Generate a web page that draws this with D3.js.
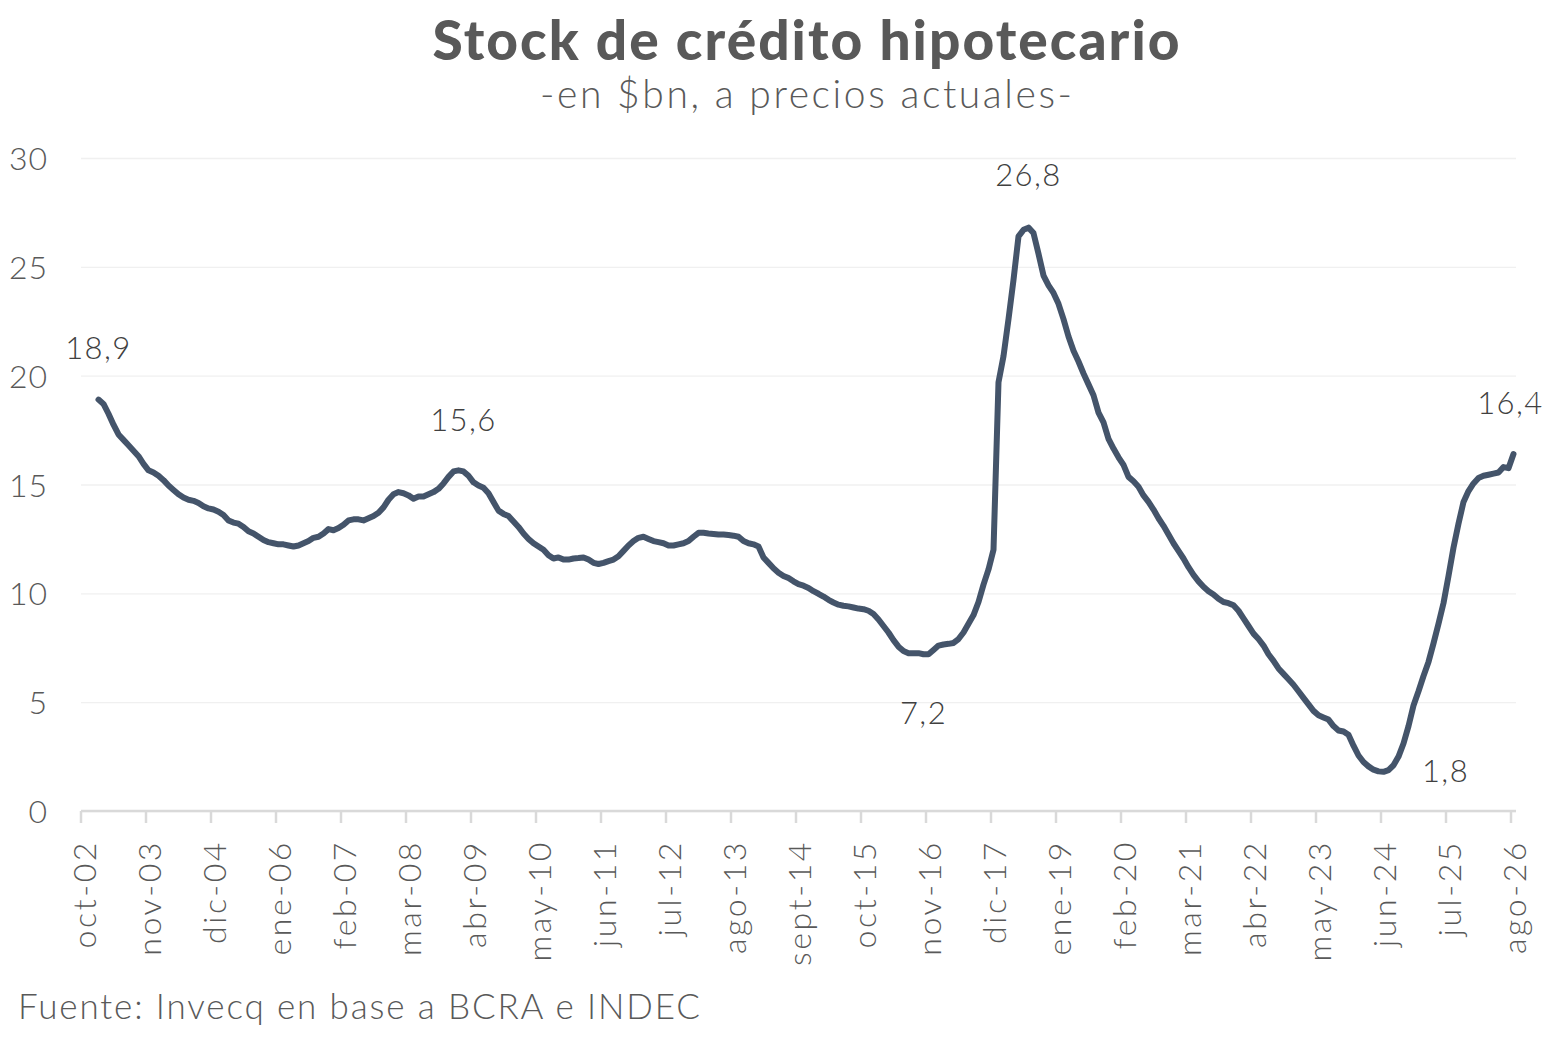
<!DOCTYPE html>
<html>
<head>
<meta charset="utf-8">
<script src="https://cdn.jsdelivr.net/npm/d3@7"></script>
<style>
  body { margin: 0; background: #fff; }
  svg text { font-family: Lato, "Open Sans", sans-serif; }
</style>
</head>
<body>
<div class="chart"></div>
<script>
// Monthly categories from oct-02 to ago-26
const monthNames = ['ene', 'feb', 'mar', 'abr', 'may', 'jun', 'jul', 'ago', 'sept', 'oct', 'nov', 'dic'];
const firstCategory = { year: 2002, month: 9 }; // oct-02
const nCategories = 287;
const firstValueIndex = 3; // series starts in ene-03

// Stock de crédito hipotecario, $bn a precios actuales
const stock = [
  18.9, 18.7, 18.25, 17.75, 17.3, 17.05, 16.8, 16.55, 16.3, 15.95,
  15.65, 15.55, 15.4, 15.2, 14.95, 14.75, 14.55, 14.4, 14.3, 14.25,
  14.15, 14.0, 13.9, 13.85, 13.75, 13.6, 13.35, 13.25, 13.2, 13.05,
  12.85, 12.75, 12.6, 12.45, 12.35, 12.3, 12.25, 12.25, 12.2, 12.15,
  12.2, 12.3, 12.4, 12.55, 12.6, 12.75, 12.95, 12.9, 13.0, 13.15,
  13.35, 13.4, 13.4, 13.35, 13.45, 13.55, 13.7, 13.95, 14.3, 14.55,
  14.65, 14.6, 14.5, 14.35, 14.45, 14.45, 14.55, 14.65, 14.8, 15.05,
  15.35, 15.6, 15.65, 15.6, 15.4, 15.1, 14.95, 14.85, 14.6, 14.2,
  13.8, 13.65, 13.55, 13.3, 13.05, 12.75, 12.5, 12.3, 12.15, 12.0,
  11.75, 11.6, 11.65, 11.55, 11.55, 11.6, 11.62, 11.65, 11.55, 11.4,
  11.35, 11.4, 11.48, 11.55, 11.7, 11.95, 12.2, 12.4, 12.55, 12.6,
  12.5, 12.4, 12.35, 12.3, 12.2, 12.2, 12.25, 12.3, 12.4, 12.6,
  12.78, 12.78, 12.75, 12.73, 12.7, 12.7, 12.68, 12.65, 12.6, 12.4,
  12.3, 12.25, 12.15, 11.65, 11.4, 11.15, 10.95, 10.8, 10.7, 10.55,
  10.42, 10.35, 10.25, 10.1, 9.98, 9.85, 9.7, 9.58, 9.48, 9.43,
  9.4, 9.35, 9.3, 9.27, 9.2, 9.05, 8.8, 8.5, 8.2, 7.85,
  7.55, 7.35, 7.25, 7.25, 7.25, 7.2, 7.2, 7.4, 7.6, 7.65,
  7.68, 7.72, 7.9, 8.2, 8.6, 9.0, 9.6, 10.4, 11.1, 12.0,
  19.7, 20.9, 22.6, 24.4, 26.4, 26.7, 26.8, 26.55, 25.6, 24.6,
  24.15, 23.8, 23.3, 22.6, 21.8, 21.15, 20.65, 20.1, 19.6, 19.1,
  18.3, 17.85, 17.1, 16.65, 16.25, 15.9, 15.35, 15.15, 14.9, 14.5,
  14.2, 13.85, 13.45, 13.1, 12.7, 12.3, 11.95, 11.6, 11.2, 10.85,
  10.55, 10.3, 10.1, 9.95, 9.75, 9.6, 9.55, 9.45, 9.2, 8.85,
  8.5, 8.15, 7.9, 7.6, 7.2, 6.9, 6.55, 6.3, 6.05, 5.8,
  5.5, 5.2, 4.9, 4.6, 4.4, 4.3, 4.2, 3.9, 3.7, 3.65,
  3.5, 3.0, 2.55, 2.25, 2.05, 1.9, 1.82, 1.8, 1.88, 2.1,
  2.5, 3.1, 3.9, 4.85, 5.5, 6.2, 6.85, 7.7, 8.6, 9.55,
  10.8, 12.1, 13.2, 14.2, 14.7, 15.05, 15.3, 15.4, 15.45, 15.5,
  15.55, 15.8, 15.75, 16.4
];

// Annotated points: category and shown value
const labelMonths = ['ene-03', 'ene-09', 'jul-18', 'oct-16', 'jun-24', 'ago-26'];
const labelValues = [18.9, 15.6, 26.8, 7.2, 1.8, 16.4];

const yTicks = [0, 5, 10, 15, 20, 25, 30];
const tickEvery = 13;

// build category names
function categoryName(k) {
  const m = firstCategory.month + k;
  const year = firstCategory.year + Math.floor(m / 12);
  return `${monthNames[m % 12]}-${String(year % 100).padStart(2, '0')}`;
}
const categories = d3.range(nCategories).map(categoryName);
const series = stock.map((v, i) => ({ cat: categories[i + firstValueIndex], value: v }));
const labels = labelMonths.map((c, i) => ({ cat: c, value: labelValues[i] }));

const es = d3.formatLocale({ decimal: ',', thousands: '.', grouping: [3], currency: ['$', ''] });
const fmt = es.format('.1f');

const width = 1558, height = 1040;
const margin = { top: 158, right: 42, bottom: 229, left: 81 };

const svg = d3.select('.chart')
  .append('svg')
  .attr('width', width)
  .attr('height', height);

const xScale = d3.scaleBand()
  .domain(categories)
  .range([margin.left, width - margin.right]);

const yScale = d3.scaleLinear()
  .domain([0, 30])
  .range([height - margin.bottom, margin.top]);

const cx = c => xScale(c) + xScale.bandwidth() / 2;

// Title
svg.append('text')
  .attr('x', 806).attr('y', 60)
  .attr('text-anchor', 'middle')
  .attr('textLength', 747).attr('lengthAdjust', 'spacing')
  .style('font-size', '55px').style('font-weight', 900)
  .style('fill', '#595959')
  .text('Stock de crédito hipotecario');

svg.append('text')
  .attr('x', 806).attr('y', 108)
  .attr('text-anchor', 'middle')
  .attr('textLength', 532).attr('lengthAdjust', 'spacing')
  .style('font-size', '39px').style('font-weight', 300)
  .style('fill', '#595959')
  .text('-en $bn, a precios actuales-');

// Gridlines
const yAxis = d3.axisLeft(yScale)
  .tickValues(yTicks)
  .tickSize(-(width - margin.left - margin.right))
  .tickPadding(33)
  .tickFormat(d3.format('d'));

const yAxisDraw = svg.append('g')
  .attr('transform', `translate(${margin.left},0)`)
  .call(yAxis);
yAxisDraw.select('.domain').remove();
yAxisDraw.selectAll('line').style('stroke', '#f0f0f0').style('stroke-width', 1.3);
yAxisDraw.selectAll('text')
  .attr('dy', '0.36em')
  .style('font-size', '32px').style('font-weight', 300)
  .style('letter-spacing', '1px')
  .style('fill', '#595959');

// X axis (category axis, ticks between categories)
const xAxisG = svg.append('g')
  .attr('transform', `translate(0,${yScale(0)})`);

xAxisG.append('line')
  .attr('x1', margin.left).attr('x2', width - margin.right)
  .style('stroke', '#d9d9d9').style('stroke-width', 2.5);

const tickCats = categories.filter((d, i) => i % tickEvery === 0);

xAxisG.selectAll('.tick-mark')
  .data(tickCats)
  .join('line')
  .attr('class', 'tick-mark')
  .attr('x1', d => xScale(d)).attr('x2', d => xScale(d))
  .attr('y1', 0).attr('y2', 12)
  .style('stroke', '#d9d9d9').style('stroke-width', 2.5);

xAxisG.selectAll('.tick-label')
  .data(tickCats)
  .join('text')
  .attr('class', 'tick-label')
  .attr('transform', d => `translate(${cx(d) + 1},29) rotate(-90)`)
  .attr('text-anchor', 'end')
  .attr('dy', '0.36em')
  .style('font-size', '32px').style('font-weight', 300)
  .style('letter-spacing', '2.6px')
  .style('fill', '#595959')
  .text(d => d);

// Line
const line = d3.line()
  .x(d => cx(d.cat))
  .y(d => yScale(d.value));

svg.append('path')
  .datum(series)
  .attr('d', line)
  .style('fill', 'none')
  .style('stroke', '#44546A')
  .style('stroke-width', 6)
  .style('stroke-linejoin', 'round')
  .style('stroke-linecap', 'round');

// Data labels
const labelOffset = [[0, -41], [5, -40], [0, -42], [0, 70], [62, 10], [-3, -40]];
svg.selectAll('.data-label')
  .data(labels)
  .join('text')
  .attr('class', 'data-label')
  .attr('x', (d, i) => cx(d.cat) + labelOffset[i][0])
  .attr('y', (d, i) => yScale(d.value) + labelOffset[i][1])
  .attr('text-anchor', 'middle')
  .style('font-size', '31px').style('font-weight', 300)
  .style('letter-spacing', '1.5px')
  .style('fill', '#404040')
  .text(d => fmt(d.value));

// Source
svg.append('text')
  .attr('x', 18).attr('y', 1019)
  .attr('textLength', 682).attr('lengthAdjust', 'spacing')
  .style('font-size', '35px').style('font-weight', 300)
  .style('fill', '#595959')
  .text('Fuente: Invecq en base a BCRA e INDEC');
</script>
</body>
</html>
